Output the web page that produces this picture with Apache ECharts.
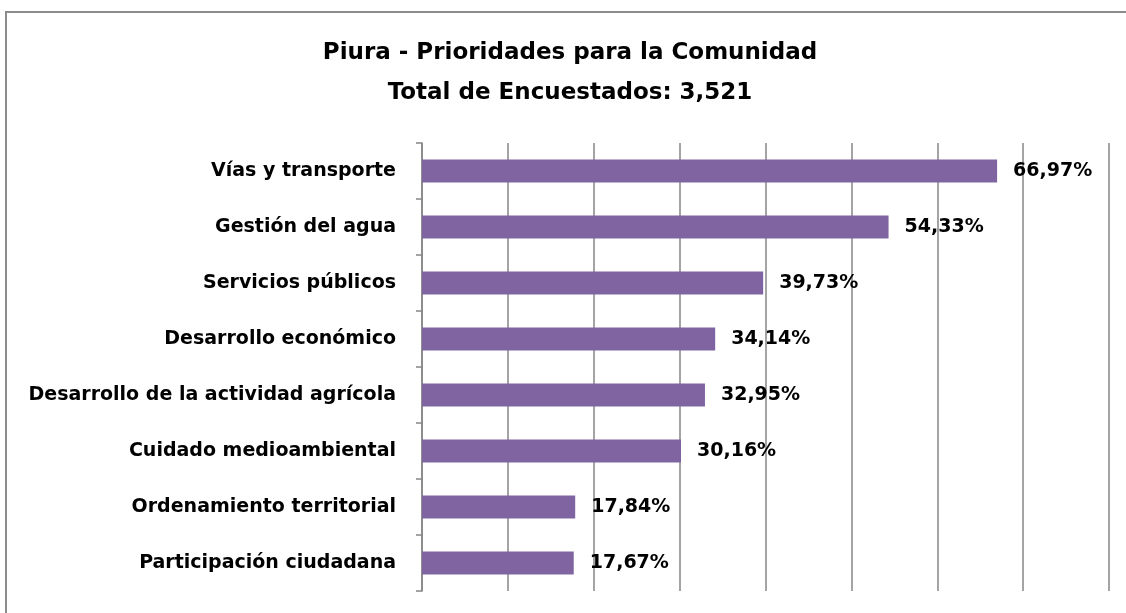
<!DOCTYPE html>
<html>
<head>
<meta charset="utf-8">
<script src="https://cdn.jsdelivr.net/npm/echarts@6/dist/echarts.min.js"></script>
<style>
  html, body { margin: 0; padding: 0; background: #fff; }
  #frame { position: absolute; left: 5px; top: 11px; width: 1130px; height: 610px; border: 2px solid #8c8c8c; box-sizing: border-box; }
  #main { position: absolute; left: 0; top: 0; width: 1126px; height: 613px; }
</style>
</head>
<body>
<div id="frame"></div>
<div id="main"></div>
<script>
// categorias (de arriba hacia abajo)
var categorias = ['Vías y transporte', 'Gestión del agua', 'Servicios públicos', 'Desarrollo económico',
  'Desarrollo de la actividad agrícola', 'Cuidado medioambiental', 'Ordenamiento territorial', 'Participación ciudadana'];
var porcentajes = [66.97, 54.33, 39.73, 34.14, 32.95, 30.16, 17.84, 17.67];

var myChart = echarts.init(document.getElementById('main'));
var fuente = '"DejaVu Sans", sans-serif';
var option = {
  animation: false,
  title: {
    text: 'Piura - Prioridades para la Comunidad\nTotal de Encuestados: 3,521',
    left: 565,
    textAlign: 'center',
    top: 28,
    textStyle: { fontFamily: fuente, fontSize: 23, fontWeight: 'bold', color: '#000', lineHeight: 40 }
  },
  grid: { left: 422, right: 17, top: 143, bottom: 22, containLabel: false },
  xAxis: {
    type: 'value',
    min: 0, max: 80, interval: 10,
    axisLabel: { show: false },
    axisLine: { show: false },
    axisTick: { show: false },
    splitLine: { show: true, lineStyle: { color: '#868686', width: 1.5 } }
  },
  yAxis: {
    type: 'category',
    inverse: true,
    data: categorias,
    axisLine: { show: true, lineStyle: { color: '#868686', width: 1.5 } },
    axisTick: { show: true, length: 6, lineStyle: { color: '#868686', width: 1.5 } },
    axisLabel: { margin: 26, fontFamily: fuente, fontSize: 19, fontWeight: 'bold', color: '#000' }
  },
  series: [
    {
      type: 'bar',
      data: porcentajes,
      barWidth: 23,
      itemStyle: { color: '#8064A2' },
      label: {
        show: true, position: 'right', distance: 16,
        fontFamily: fuente, fontSize: 19, fontWeight: 'bold', color: '#000',
        formatter: function (p) { return p.value.toFixed(2).replace('.', ',') + '%'; }
      }
    }
  ]
};
myChart.setOption(option);
</script>
</body>
</html>
